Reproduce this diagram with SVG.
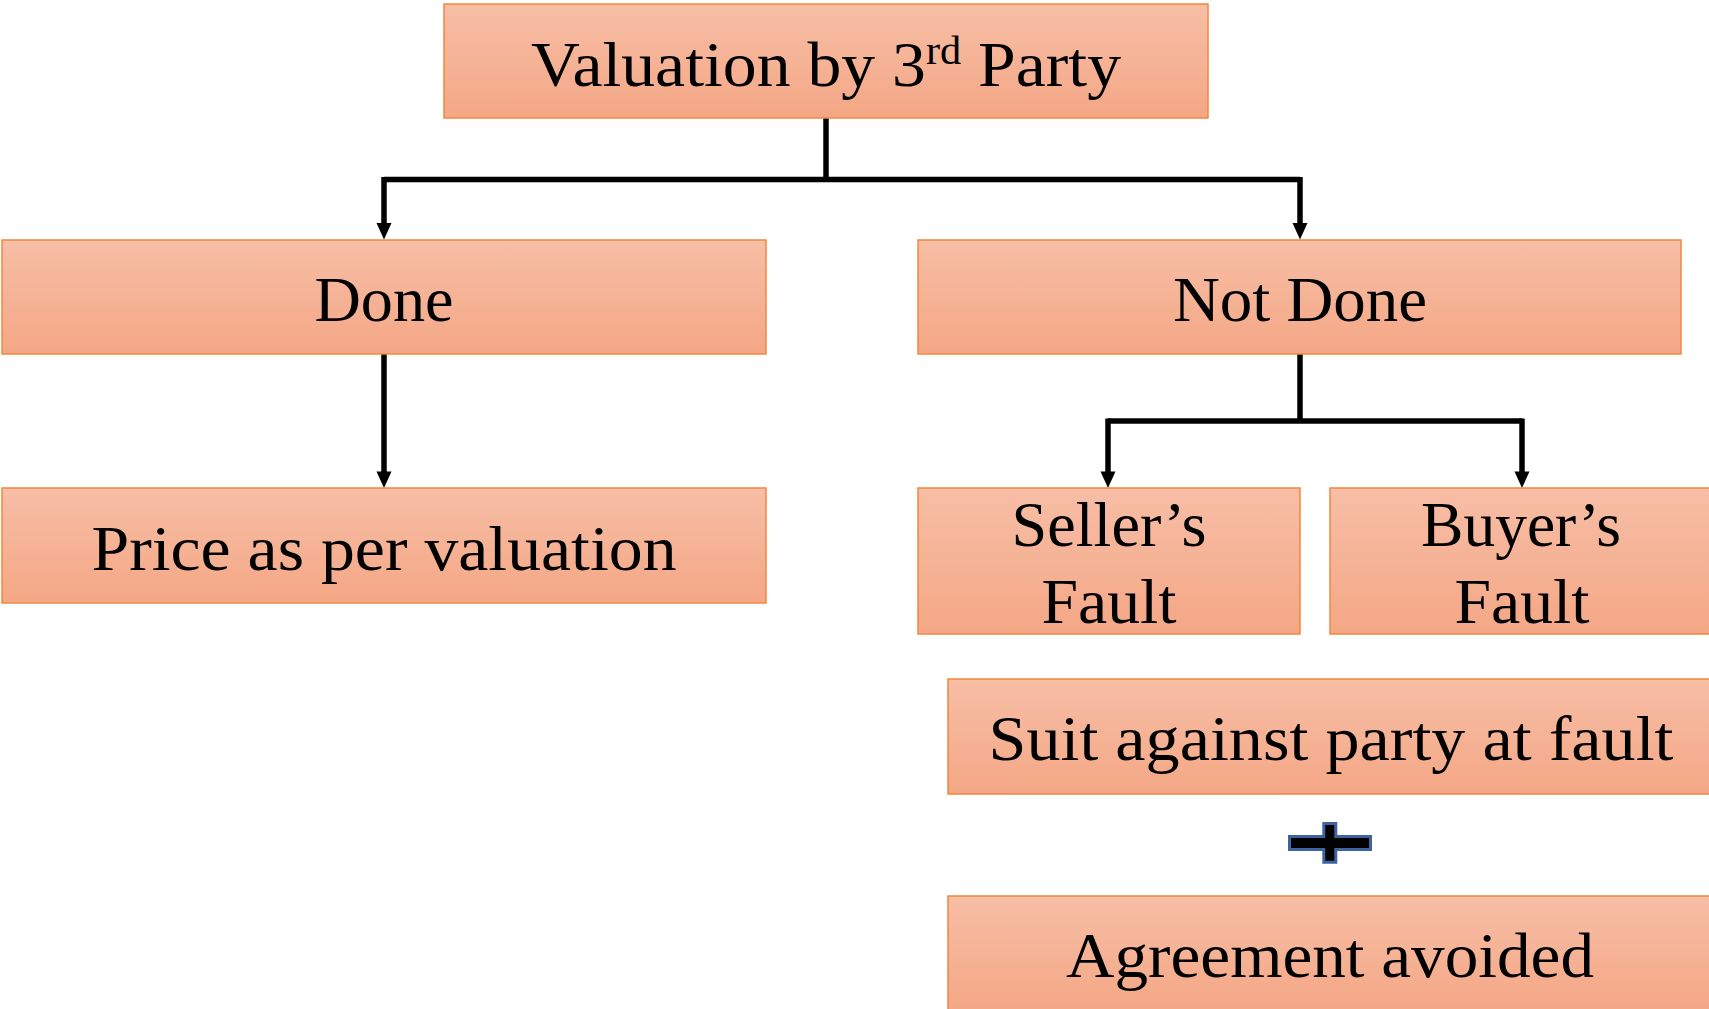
<svg xmlns="http://www.w3.org/2000/svg" width="1709" height="1009" viewBox="0 0 1709 1009">
  <style>
    .box { fill: url(#peach); stroke: #F0883F; stroke-width: 1.5; }
    .label { font-family: "Liberation Serif", "DejaVu Serif", serif; font-size: 64px; fill: #000; text-anchor: middle; }
    .link { fill: none; stroke: #000; stroke-width: 5.5; stroke-linejoin: miter; }
    .head { fill: #000; }
    .plus { fill: #000; stroke: #3F62A0; stroke-width: 3; }
  </style>
  <defs>
    <linearGradient id="peach" x1="0" y1="0" x2="0" y2="1">
      <stop offset="0" stop-color="#F7BEA6"/>
      <stop offset="1" stop-color="#F4A785"/>
    </linearGradient>
  </defs>

  <rect width="1709" height="1009" fill="#fff"/>

  <!-- connectors: elbow lines with their arrowheads -->
  <g id="connectors">
    <path class="link" d="M826,118 V179.5"/>
    <path class="link" d="M384,179.5 H1300"/>
    <path class="link" d="M384,177 V226"/>
    <path class="link" d="M1300,177 V226"/>
    <path class="head" d="M376.5,223 L391.5,223 L384,239.5 Z"/>
    <path class="head" d="M1292.5,223 L1307.5,223 L1300,239.5 Z"/>

    <path class="link" d="M384,354 V474"/>
    <path class="head" d="M376.5,471.5 L391.5,471.5 L384,488 Z"/>

    <path class="link" d="M1300,354 V421"/>
    <path class="link" d="M1108,421 H1522"/>
    <path class="link" d="M1108,418.5 V474"/>
    <path class="link" d="M1522,418.5 V474"/>
    <path class="head" d="M1100.5,471.5 L1115.5,471.5 L1108,488 Z"/>
    <path class="head" d="M1514.5,471.5 L1529.5,471.5 L1522,488 Z"/>
  </g>

  <g id="valuation">
    <rect class="box" x="444" y="4" width="764" height="114"/>
    <text class="label" x="826" y="86" textLength="590" lengthAdjust="spacingAndGlyphs">Valuation by 3<tspan font-size="40" dy="-22">rd</tspan><tspan dy="22"> Party</tspan></text>
  </g>

  <g id="done">
    <rect class="box" x="2" y="240" width="764" height="114"/>
    <text class="label" x="384" y="321" textLength="139" lengthAdjust="spacingAndGlyphs">Done</text>
  </g>

  <g id="not-done">
    <rect class="box" x="918" y="240" width="763" height="114"/>
    <text class="label" x="1300" y="321" textLength="254" lengthAdjust="spacingAndGlyphs">Not Done</text>
  </g>

  <g id="price">
    <rect class="box" x="2" y="488" width="764" height="115"/>
    <text class="label" x="384" y="570" textLength="585" lengthAdjust="spacingAndGlyphs">Price as per valuation</text>
  </g>

  <g id="seller-fault">
    <rect class="box" x="918" y="488" width="382" height="146"/>
    <text class="label" x="1109" y="546" textLength="195" lengthAdjust="spacingAndGlyphs">Seller’s</text>
    <text class="label" x="1109" y="623" textLength="135" lengthAdjust="spacingAndGlyphs">Fault</text>
  </g>

  <g id="buyer-fault">
    <rect class="box" x="1330" y="488" width="383" height="146"/>
    <text class="label" x="1521" y="546" textLength="200" lengthAdjust="spacingAndGlyphs">Buyer’s</text>
    <text class="label" x="1522" y="623" textLength="135" lengthAdjust="spacingAndGlyphs">Fault</text>
  </g>

  <g id="suit">
    <rect class="box" x="948" y="679" width="765" height="115"/>
    <text class="label" x="1331" y="760" textLength="685" lengthAdjust="spacingAndGlyphs">Suit against party at fault</text>
  </g>

  <g id="plus">
    <path class="plus" d="M1323.8,823.5 H1335.8 V836.5 H1370.5 V849.5 H1335.8 V862.2 H1323.8 V849.5 H1289.5 V836.5 H1323.8 Z"/>
  </g>

  <g id="avoided">
    <rect class="box" x="948" y="896" width="765" height="115"/>
    <text class="label" x="1330" y="977" textLength="528" lengthAdjust="spacingAndGlyphs">Agreement avoided</text>
  </g>
</svg>
